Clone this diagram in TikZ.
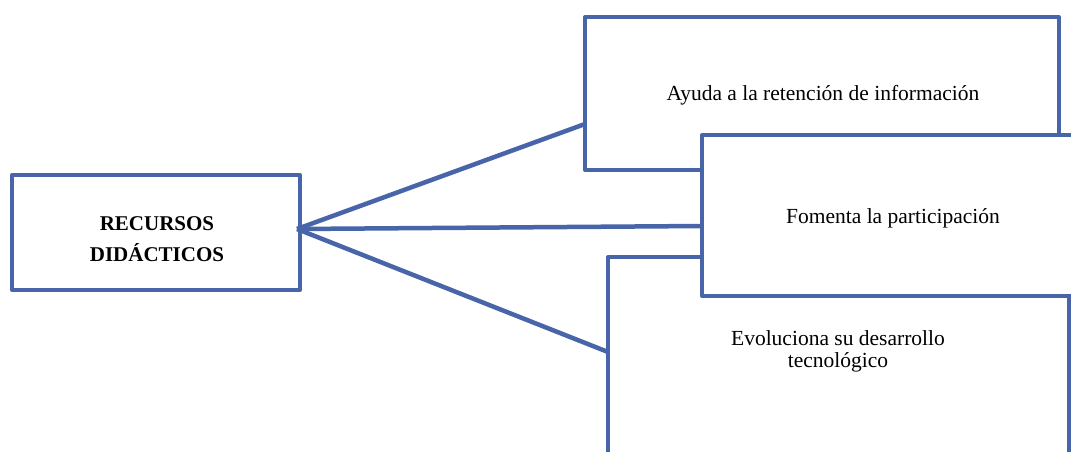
\documentclass[tikz,border=0pt]{standalone}
\usepackage{fontspec}
\setmainfont{Liberation Serif}
\definecolor{boxblue}{RGB}{72,101,170}
\begin{document}
\begin{tikzpicture}[x=1pt,y=-1pt,
  every node/.style={inner sep=0pt, outer sep=0pt},
  box/.style={draw=boxblue, line width=4pt, fill=white, line join=round, rectangle},
  link/.style={draw=boxblue, line width=4.5pt},
  txt/.style={font=\fontsize{21.5}{22}\selectfont, anchor=base, align=center}]
\clip (0,0) rectangle (1071,452);
\fill[white] (0,0) rectangle (1071,452);

% central concept (base anchor sits on the last line)
\node[box, minimum width=288pt, minimum height=115pt] (root) at (156,232.5) {};
\node[txt, font=\bfseries\fontsize{21}{31}\selectfont] (roottext) at (157,261) {RECURSOS\\DIDÁCTICOS};

% three overlapping feature boxes
\node[box, minimum width=474pt, minimum height=153pt] (b1) at (822,93.5) {};
\node[box, minimum width=461pt, minimum height=263pt] (b3) at (838.5,388.5) {};
\node[box, minimum width=382pt, minimum height=161pt] (b2) at (893,215.5) {};

\node[txt] (t1) at (823,100) {Ayuda a la retención de información};
\node[txt] (t2) at (893,223) {Fomenta la participación};
\node[txt] (t3) at (838,367) {Evoluciona su desarrollo\\tecnológico};

% connectors fanning out from the central box
\coordinate (hub) at ([xshift=-3pt,yshift=3.5pt]root.east);
\draw[link] (hub) -- ([yshift=-30.5pt]b1.west);
\draw[link] (hub) -- ([yshift=-10.5pt]b2.west);
\draw[link] (hub) -- ([yshift=36.5pt]b3.west);
\end{tikzpicture}
\end{document}
